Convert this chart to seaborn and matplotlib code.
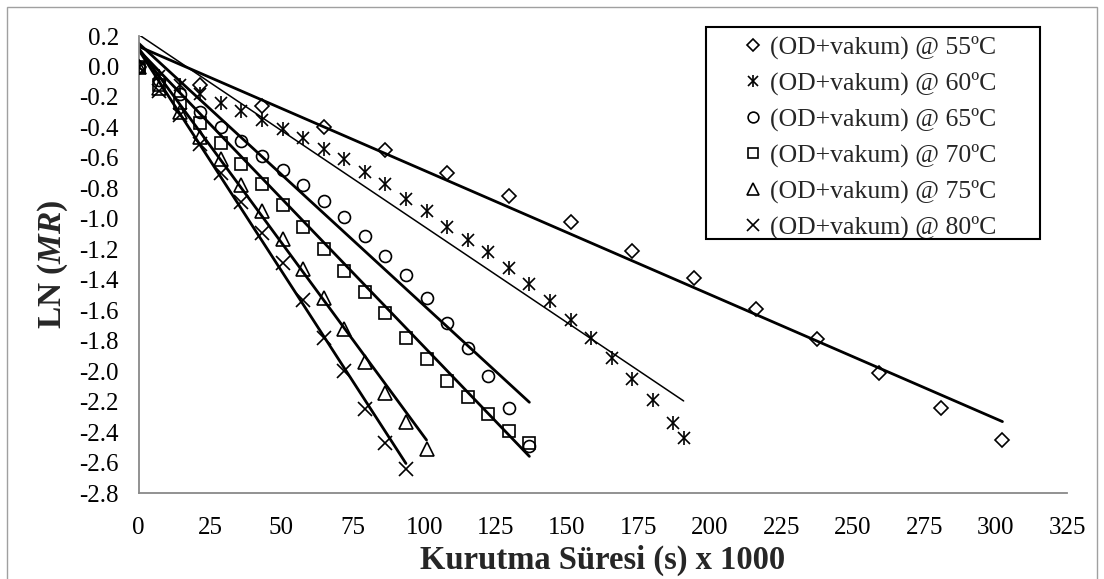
import numpy as np
import pandas as pd
import matplotlib
matplotlib.use("Agg")
import matplotlib.pyplot as plt
from matplotlib.lines import Line2D
from matplotlib.patches import Rectangle
from matplotlib.legend_handler import HandlerTuple
import seaborn as sns

# Drying time (s x 1000) and ln(MR) for each osmotic-dehydration + vacuum run
x55 = [0, 21.6, 43.2, 64.8, 86.4, 108, 129.6, 151.2, 172.8, 194.4, 216, 237.6,
       259.2, 280.8, 302.4]
y55 = [0, -0.12, -0.26, -0.40, -0.55, -0.70, -0.85, -1.02, -1.21, -1.39, -1.59,
       -1.79, -2.01, -2.24, -2.45]

x60 = [0, 7.2, 14.4, 21.6, 28.8, 36, 43.2, 50.4, 57.6, 64.8, 72, 79.2, 86.4,
       93.6, 100.8, 108, 115.2, 122.4, 129.6, 136.8, 144, 151.2, 158.4, 165.6,
       172.8, 180, 187.2, 190.8]
y60 = [0, -0.06, -0.12, -0.18, -0.24, -0.29, -0.35, -0.41, -0.47, -0.54, -0.61,
       -0.69, -0.77, -0.87, -0.95, -1.05, -1.14, -1.22, -1.32, -1.43, -1.54,
       -1.66, -1.78, -1.91, -2.05, -2.19, -2.34, -2.44]

x65 = [0, 7.2, 14.4, 21.6, 28.8, 36, 43.2, 50.4, 57.6, 64.8, 72, 79.2, 86.4,
       93.6, 100.8, 108, 115.2, 122.4, 129.6, 136.8]
y65 = [0, -0.09, -0.18, -0.30, -0.40, -0.49, -0.59, -0.68, -0.78, -0.88, -0.99,
       -1.11, -1.24, -1.37, -1.52, -1.68, -1.85, -2.03, -2.24, -2.49]

x70 = [0, 7.2, 14.4, 21.6, 28.8, 36, 43.2, 50.4, 57.6, 64.8, 72, 79.2, 86.4,
       93.6, 100.8, 108, 115.2, 122.4, 129.6, 136.8]
y70 = [0, -0.12, -0.24, -0.37, -0.50, -0.64, -0.77, -0.91, -1.05, -1.20, -1.34,
       -1.48, -1.62, -1.78, -1.92, -2.06, -2.17, -2.28, -2.39, -2.47]

x75 = [0, 7.2, 14.4, 21.6, 28.8, 36, 43.2, 50.4, 57.6, 64.8, 72, 79.2, 86.4,
       93.6, 100.8]
y75 = [0, -0.14, -0.30, -0.46, -0.61, -0.78, -0.95, -1.13, -1.33, -1.52, -1.72,
       -1.94, -2.14, -2.33, -2.51]

x80 = [0, 7.2, 14.4, 21.6, 28.8, 36, 43.2, 50.4, 57.6, 64.8, 72, 79.2, 86.4,
       93.6]
y80 = [0, -0.16, -0.32, -0.51, -0.70, -0.89, -1.09, -1.29, -1.53, -1.78, -2.00,
       -2.25, -2.47, -2.64]

# Linear fits ln(MR) = a + b*t drawn over each run's time span
fit_intercepts = [0.132, 0.21, 0.153, 0.11, 0.12, 0.11]
fit_slopes = [-0.00814, -0.0126, -0.01722, -0.0195, -0.0255, -0.029]

labels = ["(OD+vakum) @ 55ºC", "(OD+vakum) @ 60ºC", "(OD+vakum) @ 65ºC",
          "(OD+vakum) @ 70ºC", "(OD+vakum) @ 75ºC", "(OD+vakum) @ 80ºC"]

x_ticks = [0, 25, 50, 75, 100, 125, 150, 175, 200, 225, 250, 275, 300, 325]
y_ticks = [0.2, 0.0, -0.2, -0.4, -0.6, -0.8, -1.0, -1.2, -1.4, -1.6, -1.8,
           -2.0, -2.2, -2.4, -2.6, -2.8]

sns.set_theme(style="white")
plt.rcParams["font.family"] = ["Liberation Serif", "DejaVu Serif"]
plt.rcParams["axes.unicode_minus"] = False
plt.rcParams["mathtext.fontset"] = "custom"
plt.rcParams["mathtext.it"] = "Liberation Serif:italic:bold"
plt.rcParams["mathtext.rm"] = "Liberation Serif:bold"

fig = plt.figure(figsize=(11.04, 5.79), dpi=100)
ax = fig.add_axes([0.1255, 0.148, 0.841, 0.7898])

xs = [x55, x60, x65, x70, x75, x80]
ys = [y55, y60, y65, y70, y75, y80]
line_widths = [2.0, 1.1, 2.0, 2.0, 2.0, 2.0]

# marker styles: (marker, size)
marker_specs = [
    [("D", 6.8)],
    [("x", 8.5), ("|", 9.5)],
    [("o", 8.6)],
    [("s", 8.0)],
    [("^", 9.6)],
    [("x", 10.0)],
]

gray = "#898989"

for i in range(6):
    pts = pd.DataFrame({"t": xs[i], "ln_mr": ys[i]})
    t_end = xs[i][-1]
    fit = pd.DataFrame({"t": [0.0, t_end]})
    fit["ln_mr"] = fit_intercepts[i] + fit_slopes[i] * fit["t"]
    sns.lineplot(data=fit, x="t", y="ln_mr", ax=ax, color="black",
                 linewidth=line_widths[i], estimator=None, sort=False, zorder=2)
    for mk, ms in marker_specs[i]:
        sns.lineplot(data=pts, x="t", y="ln_mr", ax=ax, color="black",
                     linestyle="", marker=mk, markersize=ms,
                     markerfacecolor="none", markeredgecolor="black",
                     markeredgewidth=1.2, estimator=None, sort=False, zorder=3)

ax.set_xlim(0, 325)
ax.set_ylim(-2.8, 0.2)
ax.set_xticks(x_ticks)
ax.set_yticks(y_ticks)
ax.set_xticklabels([str(v) for v in x_ticks])
ax.set_yticklabels([f"{v:.1f}" for v in y_ticks])

for side in ["top", "right"]:
    ax.spines[side].set_visible(False)
for side in ["left", "bottom"]:
    ax.spines[side].set_color(gray)
    ax.spines[side].set_linewidth(1.3)

ax.tick_params(axis="both", which="major", direction="out", length=5,
               width=1.3, color=gray, labelsize=18, labelcolor="black")
ax.tick_params(axis="x", pad=12)
ax.tick_params(axis="y", pad=9)
ax.grid(False)

ax.set_xlabel("Kurutma Süresi (s) x 1000", fontsize=23.5, fontweight="bold",
              labelpad=4)
ax.set_ylabel(r"LN ($\mathit{MR}$)", fontsize=24, fontweight="bold",
              labelpad=7)

# Legend: markers only, boxed with a plain black frame
handles = []
for specs in marker_specs:
    hs = [Line2D([], [], linestyle="", marker=mk, markersize=ms * 0.9,
                 markerfacecolor="none", markeredgecolor="black",
                 markeredgewidth=1.2, color="black") for mk, ms in specs]
    handles.append(hs[0] if len(hs) == 1 else tuple(hs))

leg = ax.legend(handles, labels, loc="upper left",
                bbox_to_anchor=(744 / 1104, 1 - 36 / 579),
                bbox_transform=fig.transFigure, frameon=False, fontsize=18.5,
                handlelength=0.7, handletextpad=0.3, labelspacing=0.49,
                borderpad=0.0, borderaxespad=0.0,
                handler_map={tuple: HandlerTuple(ndivide=1, pad=0)})

fig.patches.append(Rectangle((706 / 1104, 1 - 239 / 579), (1040 - 706) / 1104,
                             (239 - 27) / 579, transform=fig.transFigure,
                             fill=False, edgecolor="black", linewidth=1.5,
                             zorder=5))

# thin gray outer frame of the chart area
fig.patches.append(Rectangle((7 / 1104, -0.05), (1097 - 7) / 1104,
                             1.05 - 7 / 579, transform=fig.transFigure,
                             fill=False, edgecolor="#a0a0a0", linewidth=1.0))

fig.savefig("out.png", dpi=100)
